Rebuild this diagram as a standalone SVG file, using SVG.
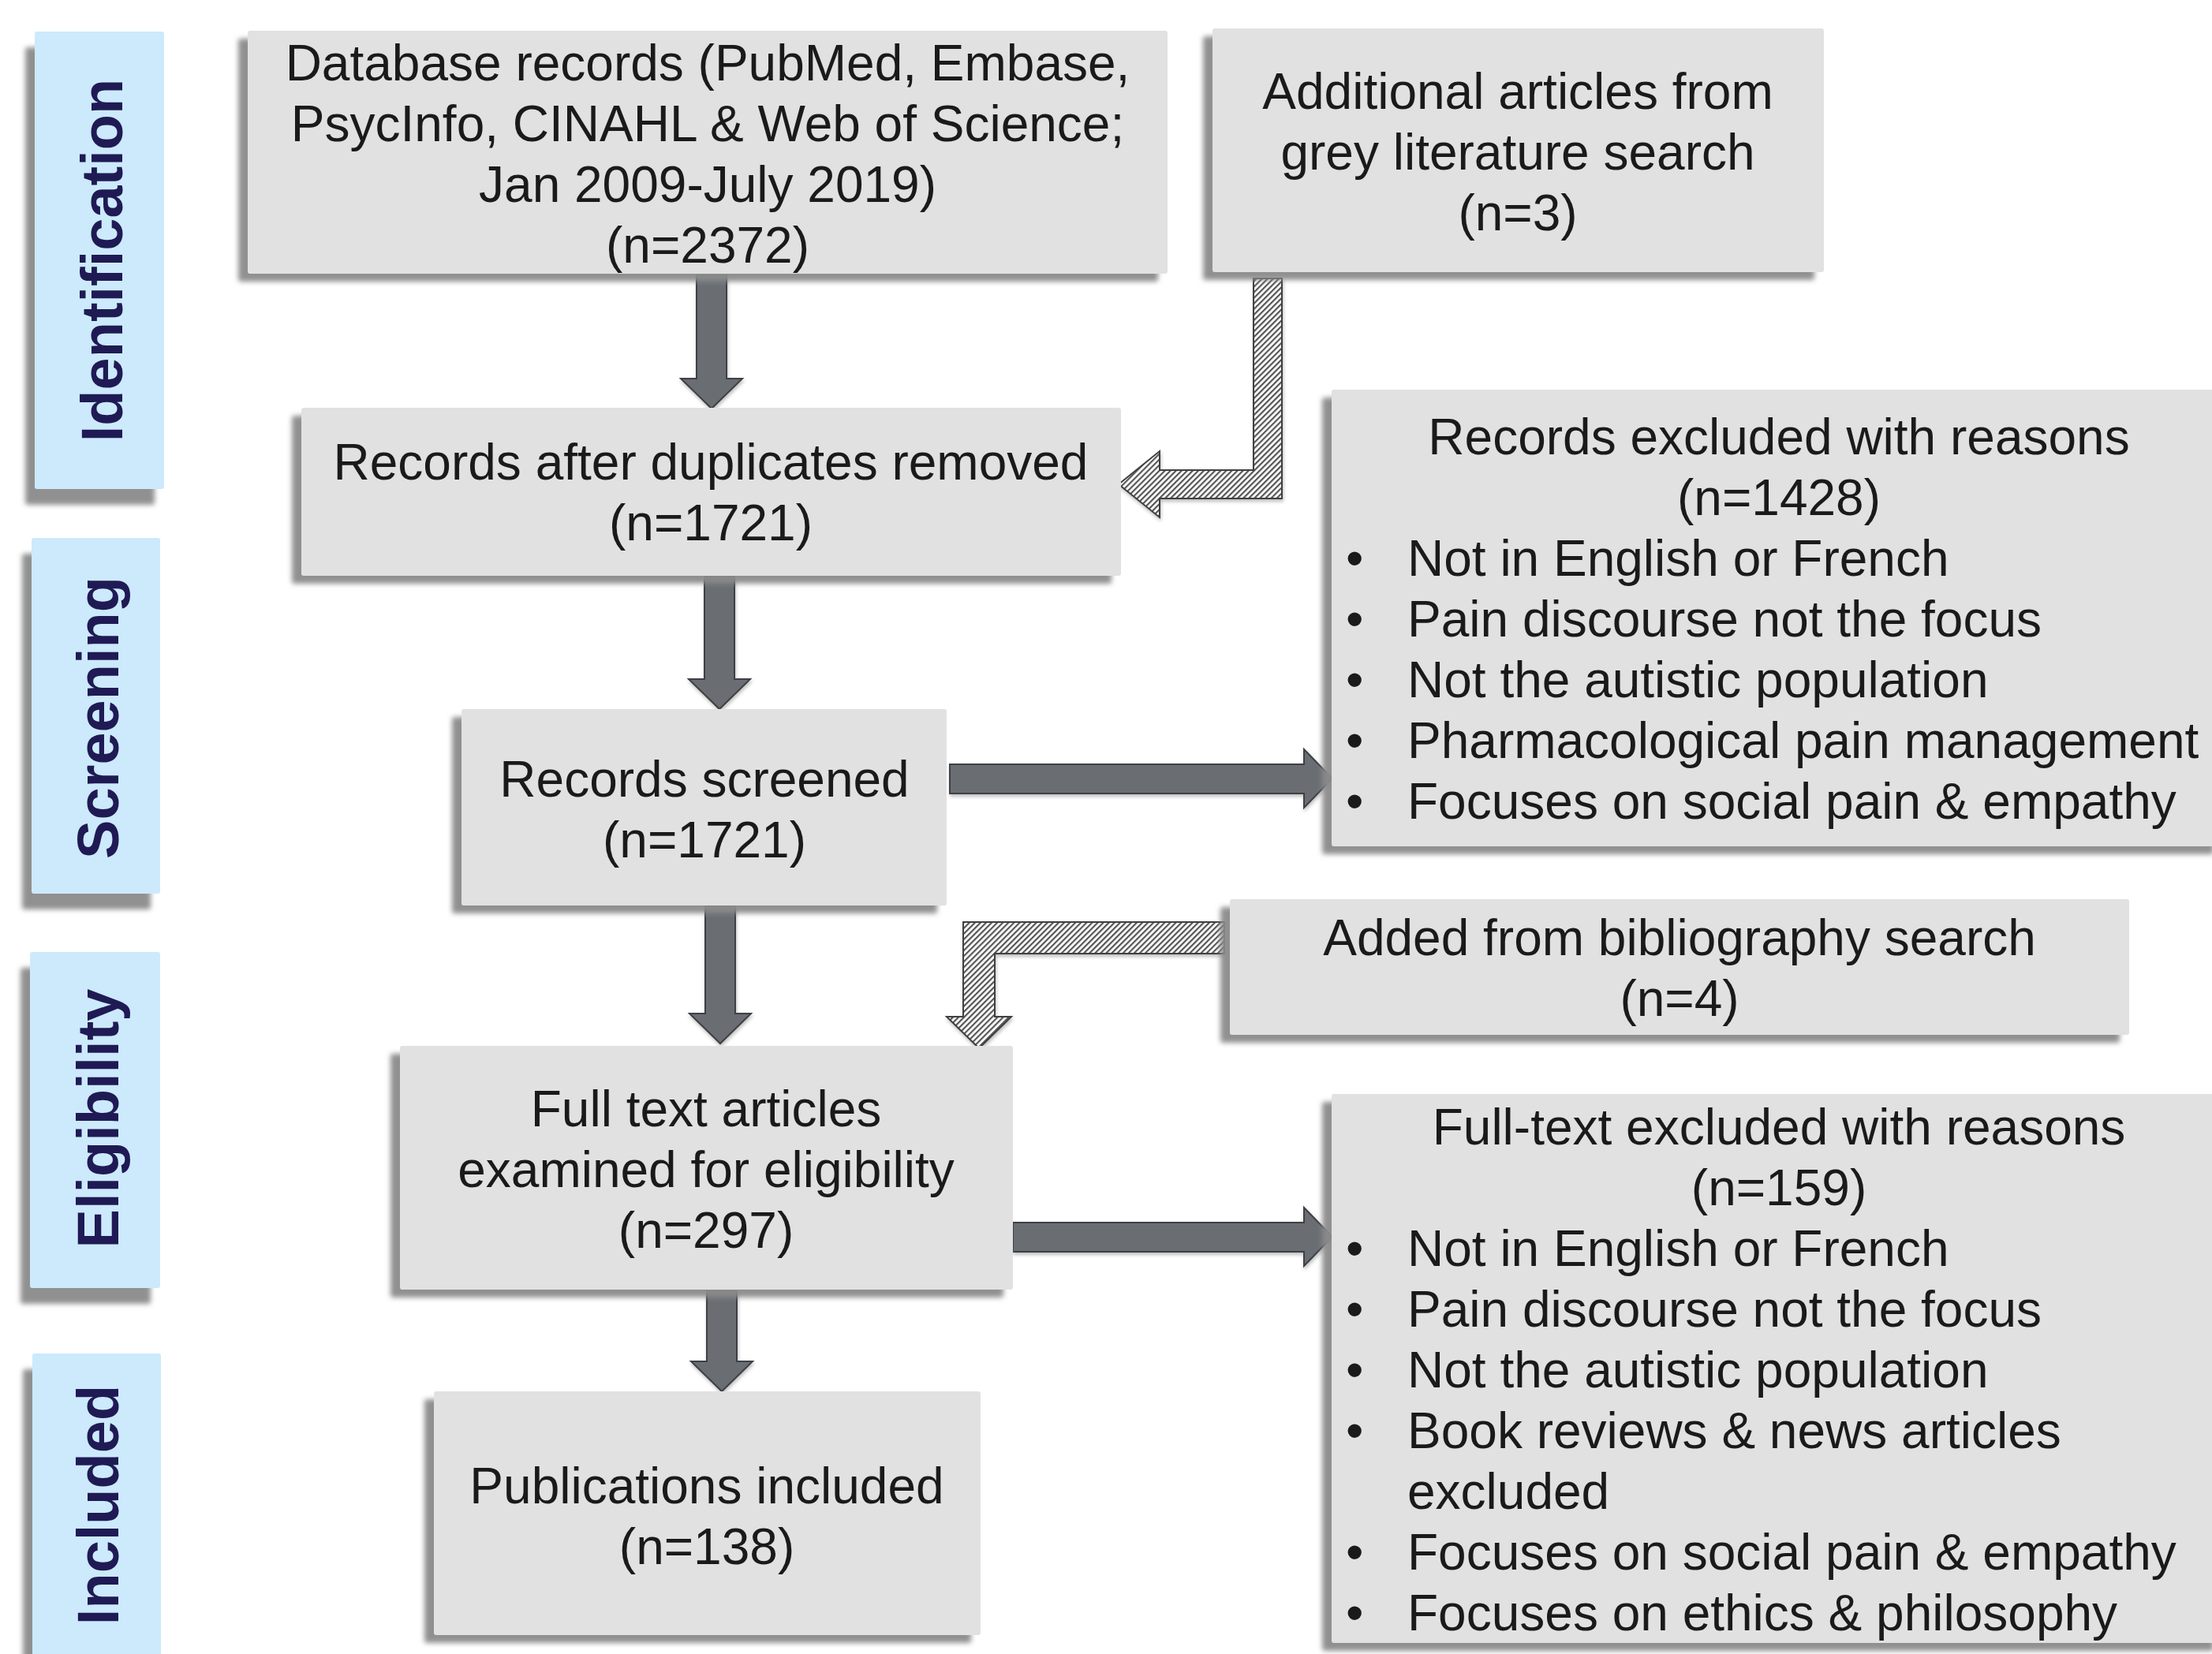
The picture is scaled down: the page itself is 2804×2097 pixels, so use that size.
<svg xmlns="http://www.w3.org/2000/svg" width="2804" height="2097" viewBox="0 0 2804 2097">
<defs>
<filter id="shBox" x="-10%" y="-10%" width="120%" height="130%">
<feDropShadow dx="-12" dy="10" stdDeviation="3" flood-color="#8a8a8a" flood-opacity="0.95"/>
</filter>
<filter id="shLab" x="-20%" y="-10%" width="140%" height="130%">
<feDropShadow dx="-12" dy="20" stdDeviation="3" flood-color="#8a8a8a" flood-opacity="0.95"/>
</filter>
<filter id="shArr" x="-20%" y="-20%" width="140%" height="140%">
<feDropShadow dx="1" dy="3" stdDeviation="2" flood-color="#000" flood-opacity="0.25"/>
</filter>
<pattern id="hatch" width="5" height="5" patternUnits="userSpaceOnUse" patternTransform="rotate(45)">
<rect width="5" height="5" fill="#ffffff"/>
<rect width="2.2" height="5" fill="#555555"/>
</pattern>
</defs>
<style>
.box{fill:#e1e1e1;filter:url(#shBox)}
.lab{fill:#cceafc;filter:url(#shLab)}
.t{font-family:"Liberation Sans",Arial,sans-serif;font-size:64px;fill:#1a1a1a}
.c{text-anchor:middle}
.lt{font-family:"Liberation Sans",Arial,sans-serif;font-size:74px;font-weight:bold;fill:#1f1a54;text-anchor:middle}
.arr{fill:#6b6e73;stroke:#3c3f44;stroke-width:2;filter:url(#shArr)}
.hat{fill:url(#hatch);stroke:#404040;stroke-width:2;filter:url(#shArr)}
</style>
<rect width="2804" height="2097" fill="#ffffff"/>

<g id="label-identification">
<rect class="lab" x="44" y="40" width="164" height="580" rx="3"/>
<text class="lt" transform="translate(155,330) rotate(-90)">Identification</text>
</g>
<g id="label-screening">
<rect class="lab" x="40" y="682" width="163" height="451" rx="3"/>
<text class="lt" transform="translate(150,910) rotate(-90)">Screening</text>
</g>
<g id="label-eligibility">
<rect class="lab" x="38" y="1207" width="165" height="426" rx="3"/>
<text class="lt" transform="translate(150,1418) rotate(-90)">Eligibility</text>
</g>
<g id="label-included">
<rect class="lab" x="41" y="1716" width="163" height="420" rx="3"/>
<text class="lt" transform="translate(150,1908) rotate(-90)">Included</text>
</g>

<g id="connectors">
<path class="arr" d="M883,349 H921 V480 H941 L902,518 L863,480 H883 Z"/>
<path class="arr" d="M893,731 H931 V861 H951 L912,899 L873,861 H893 Z"/>
<path class="arr" d="M894,1149 H932 V1285 H952 L913,1323 L874,1285 H894 Z"/>
<path class="arr" d="M896,1637 H934 V1726 H954 L915,1764 L876,1726 H896 Z"/>
<path class="arr" d="M1204,969 V1006 H1653 V1024 L1689,987 L1653,950 V969 Z"/>
<path class="arr" d="M1284,1550 V1587 H1653 V1605 L1689,1568 L1653,1531 V1550 Z"/>
<path class="hat" d="M1589,353 L1625,353 L1625,632 L1470,632 L1470,656 L1418,614 L1470,572 L1470,596 L1589,596 Z"/>
<path class="hat" d="M1552,1169 L1552,1209 L1261,1209 L1261,1289 L1282,1289 L1241,1329 L1200,1289 L1221,1289 L1221,1169 Z"/>
</g>

<g id="node-database">
<rect class="box" x="314" y="39" width="1166" height="308" rx="3"/>
<text class="t c" x="897" y="102">Database records (PubMed, Embase,</text>
<text class="t c" x="897" y="179">PsycInfo, CINAHL &amp; Web of Science;</text>
<text class="t c" x="897" y="256">Jan 2009-July 2019)</text>
<text class="t c" x="897" y="333">(n=2372)</text>
</g>
<g id="node-grey">
<rect class="box" x="1537" y="36" width="775" height="309" rx="3"/>
<text class="t c" x="1924" y="138">Additional articles from</text>
<text class="t c" x="1924" y="215">grey literature search</text>
<text class="t c" x="1924" y="292">(n=3)</text>
</g>
<g id="node-duplicates">
<rect class="box" x="382" y="517" width="1039" height="213" rx="3"/>
<text class="t c" x="901" y="608">Records after duplicates removed</text>
<text class="t c" x="901" y="685">(n=1721)</text>
</g>
<g id="node-excluded1">
<rect class="box" x="1688" y="494" width="1130" height="579" rx="3"/>
<text class="t c" x="2255" y="576">Records excluded with reasons</text>
<text class="t c" x="2255" y="653">(n=1428)</text>
<g class="t">
<text x="1706" y="730">•</text><text x="1784" y="730">Not in English or French</text>
<text x="1706" y="807">•</text><text x="1784" y="807">Pain discourse not the focus</text>
<text x="1706" y="884">•</text><text x="1784" y="884">Not the autistic population</text>
<text x="1706" y="961">•</text><text x="1784" y="961">Pharmacological pain management</text>
<text x="1706" y="1038">•</text><text x="1784" y="1038">Focuses on social pain &amp; empathy</text>
</g>
</g>
<g id="node-screened">
<rect class="box" x="585" y="899" width="615" height="249" rx="3"/>
<text class="t c" x="893" y="1010">Records screened</text>
<text class="t c" x="893" y="1087">(n=1721)</text>
</g>
<g id="node-bibliography">
<rect class="box" x="1559" y="1140" width="1140" height="172" rx="3"/>
<text class="t c" x="2129" y="1211">Added from bibliography search</text>
<text class="t c" x="2129" y="1288">(n=4)</text>
</g>
<g id="node-fulltext">
<rect class="box" x="507" y="1326" width="777" height="309" rx="3"/>
<text class="t c" x="895" y="1428">Full text articles</text>
<text class="t c" x="895" y="1505">examined for eligibility</text>
<text class="t c" x="895" y="1582">(n=297)</text>
</g>
<g id="node-excluded2">
<rect class="box" x="1688" y="1387" width="1130" height="696" rx="3"/>
<text class="t c" x="2255" y="1451">Full-text excluded with reasons</text>
<text class="t c" x="2255" y="1528">(n=159)</text>
<g class="t">
<text x="1706" y="1605">•</text><text x="1784" y="1605">Not in English or French</text>
<text x="1706" y="1682">•</text><text x="1784" y="1682">Pain discourse not the focus</text>
<text x="1706" y="1759">•</text><text x="1784" y="1759">Not the autistic population</text>
<text x="1706" y="1836">•</text><text x="1784" y="1836">Book reviews &amp; news articles</text>
<text x="1784" y="1913">excluded</text>
<text x="1706" y="1990">•</text><text x="1784" y="1990">Focuses on social pain &amp; empathy</text>
<text x="1706" y="2067">•</text><text x="1784" y="2067">Focuses on ethics &amp; philosophy</text>
</g>
</g>
<g id="node-included">
<rect class="box" x="550" y="1764" width="693" height="309" rx="3"/>
<text class="t c" x="896" y="1906">Publications included</text>
<text class="t c" x="896" y="1983">(n=138)</text>
</g>
</svg>
